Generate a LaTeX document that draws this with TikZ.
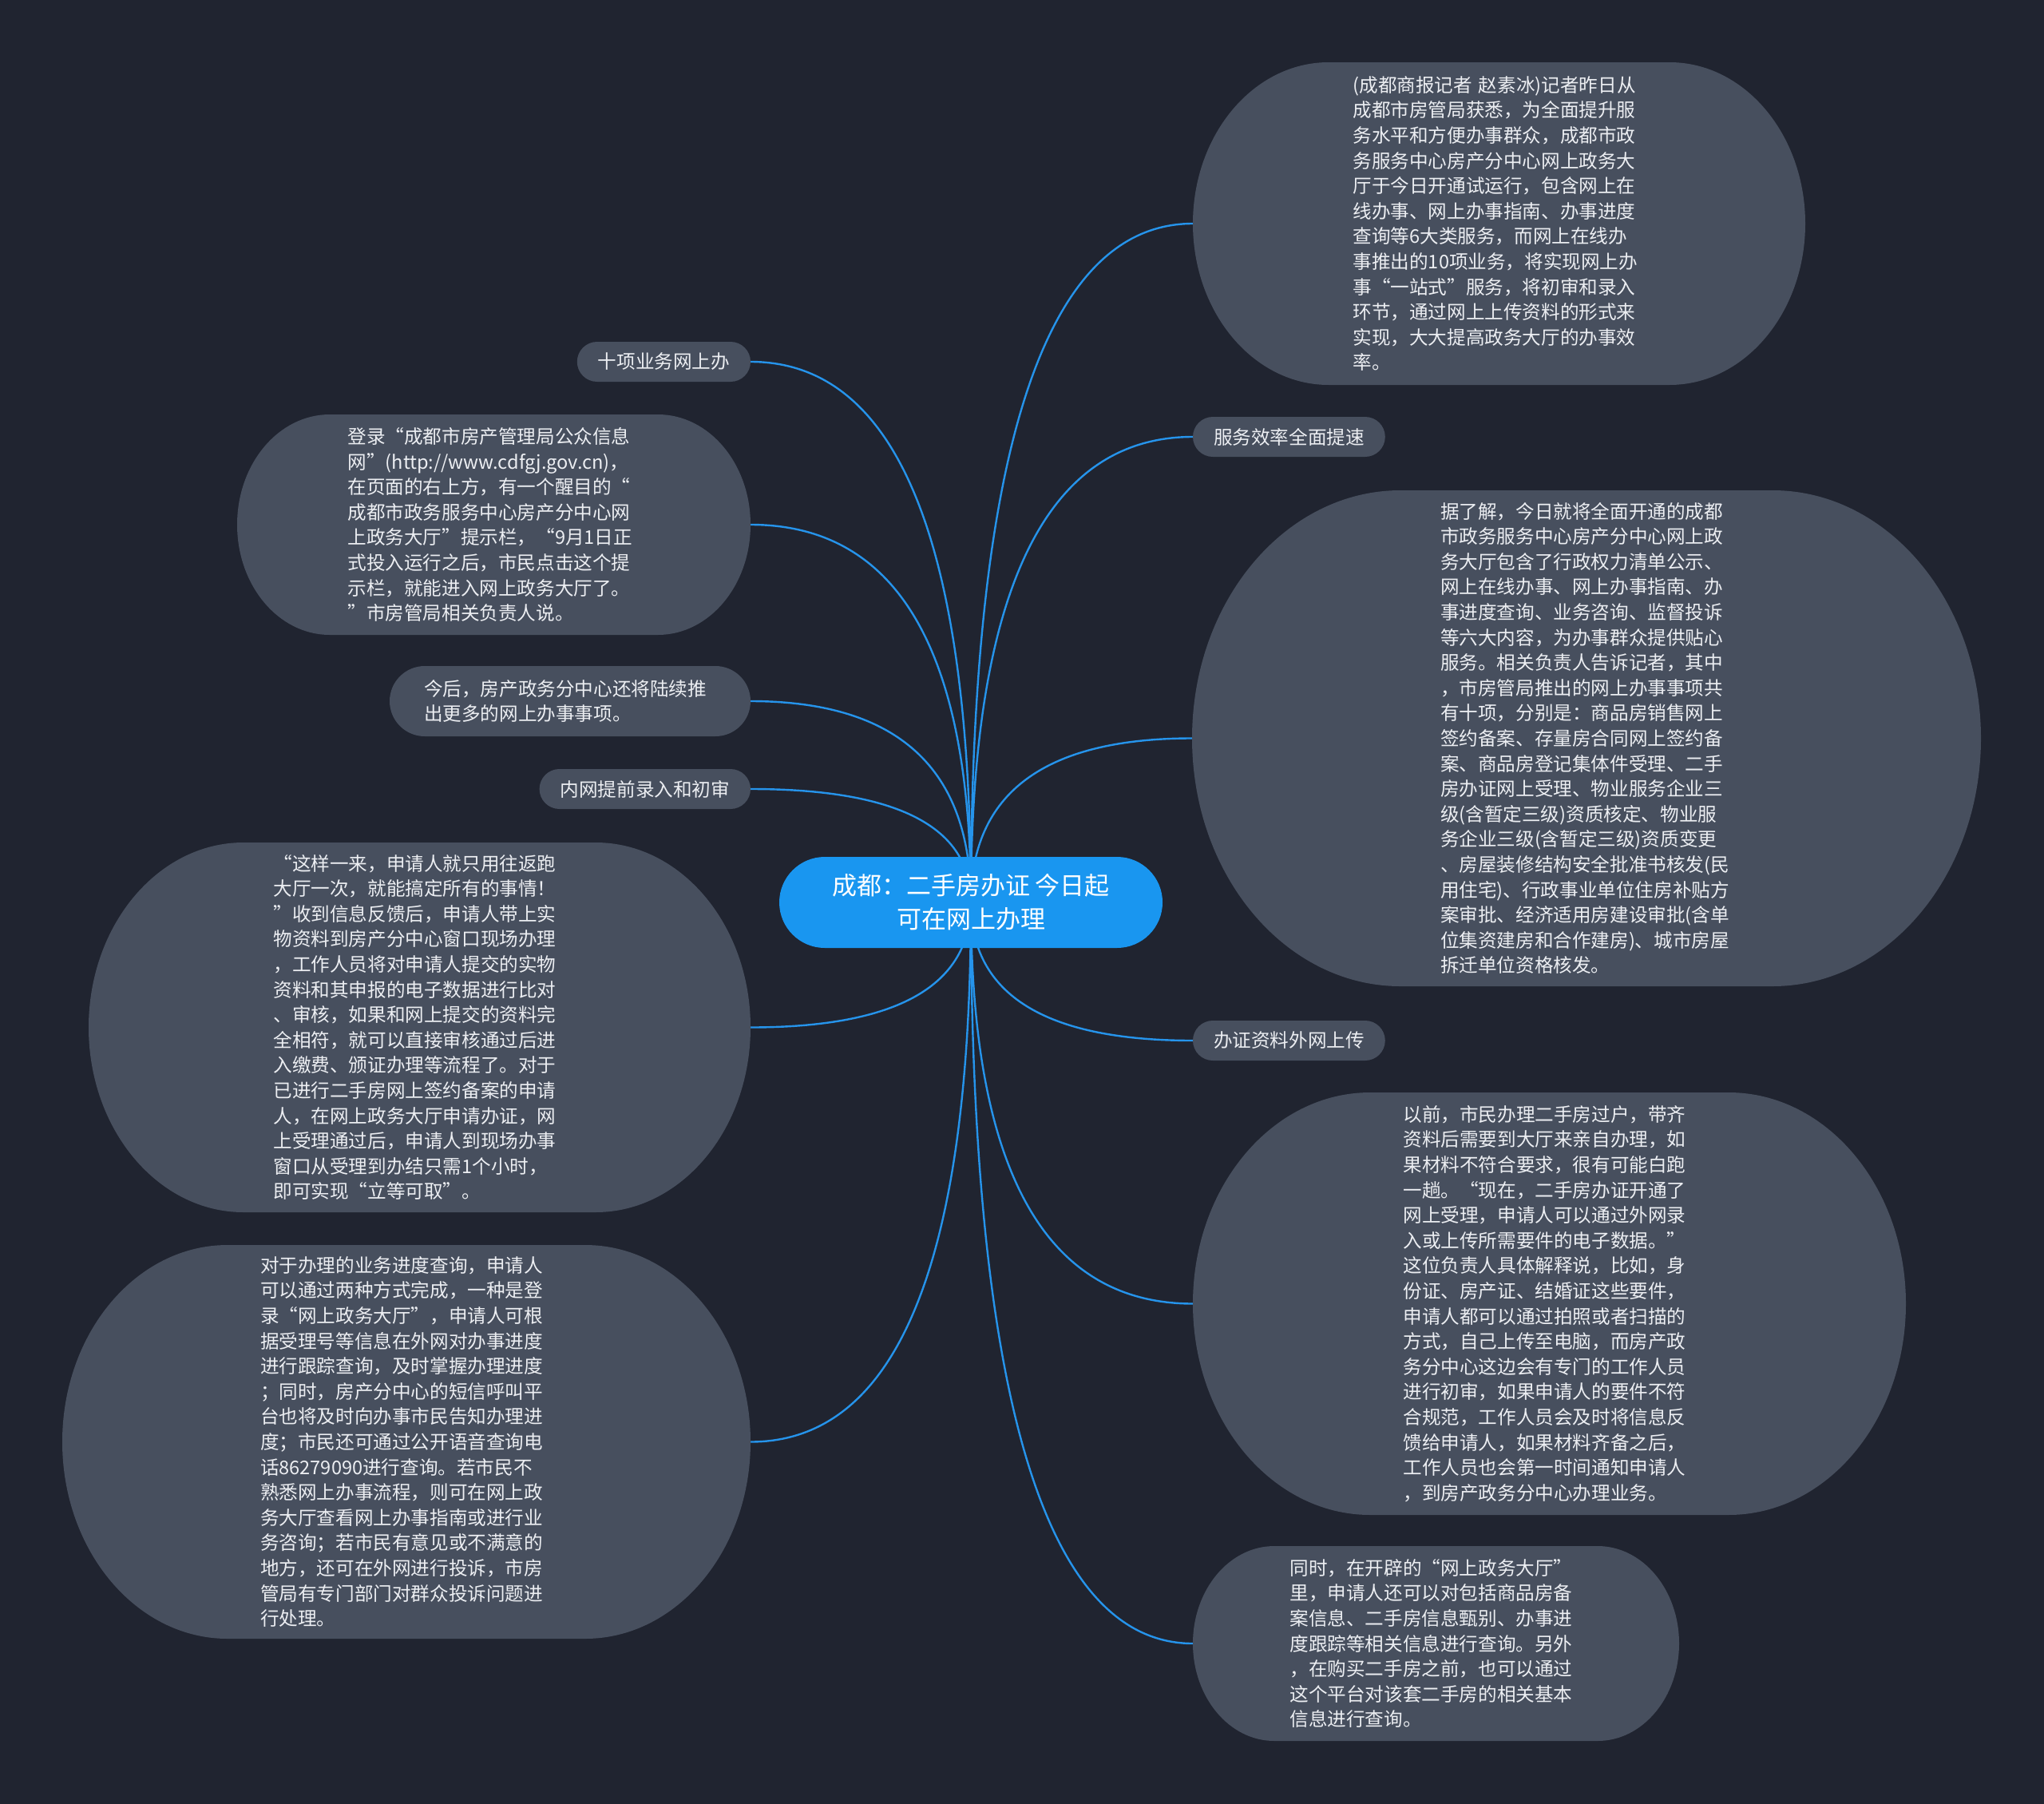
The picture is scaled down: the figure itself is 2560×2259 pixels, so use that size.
\documentclass[tikz,border=0pt]{standalone}
\usepackage{fontspec}
\setmainfont{Noto Sans CJK SC}
\usetikzlibrary{calc}
\definecolor{bgcol}{RGB}{32,36,48}
\definecolor{nodecol}{RGB}{71,79,94}
\definecolor{rootcol}{RGB}{25,150,240}
\definecolor{edgecol}{RGB}{38,148,235}
\definecolor{txtcol}{RGB}{236,238,242}
\pgfdeclarelayer{bglayer}
\pgfdeclarelayer{filllayer}
\pgfsetlayers{bglayer,filllayer,main}
\newcommand\blob[3]{%
  \fill[nodecol] ([xshift=#2]#1.north west) -- ([xshift=-#2]#1.north east)
    arc[start angle=90,end angle=-90,x radius=#2,y radius=#3]
    -- ([xshift=#2]#1.south west)
    arc[start angle=270,end angle=90,x radius=#2,y radius=#3] -- cycle;}
\newcommand\edgeto[2]{%
  \draw[edgeline] (c.center) .. controls ($(c.center)!0.6667!(c.center |- #1.#2)$)
    and ($(#1.#2)!0.6667!(c.center |- #1.#2)$) .. (#1.#2);}
\begin{document}
\begin{tikzpicture}[x=0.5pt,y=-0.5pt,
  bodyfont/.style={font=\fontsize{11.8pt}{15.8pt}\selectfont},
  bignode/.style={bodyfont, text=txtcol, text width=183pt, align=left, inner sep=0pt, outer sep=0pt},
  pill/.style={bodyfont, text=txtcol, fill=nodecol, rounded corners=12.5pt, minimum height=25pt, inner xsep=13pt, inner ysep=0pt, outer sep=0pt},
  rootnode/.style={font=\fontsize{15.5pt}{21pt}\selectfont, text=white, fill=rootcol, rounded corners=28.5pt, minimum width=240pt, minimum height=57pt, align=center, inner sep=0pt, outer sep=0pt},
  edgeline/.style={draw=edgecol, line width=1.2pt}
]
% root
\node[rootnode] (c) at (1216,1130) {成都：二手房办证 今日起\\可在网上办理};

% right side
\node[bignode, minimum width=383.5pt, minimum height=202pt] (n2) at (1877.5,280) {(成都商报记者 赵素冰)记者昨日从\\
成都市房管局获悉，为全面提升服\\
务水平和方便办事群众，成都市政\\
务服务中心房产分中心网上政务大\\
厅于今日开通试运行，包含网上在\\
线办事、网上办事指南、办事进度\\
查询等6大类服务，而网上在线办\\
事推出的10项业务，将实现网上办\\
事“一站式”服务，将初审和录入\\
环节，通过网上上传资料的形式来\\
实现，大大提高政务大厅的办事效\\
率。};

\node[pill, anchor=west] (n3) at (1494,547) {服务效率全面提速};

\node[bignode, minimum width=494pt, minimum height=310.5pt] (n4) at (1987,924.5) {据了解，今日就将全面开通的成都\\
市政务服务中心房产分中心网上政\\
务大厅包含了行政权力清单公示、\\
网上在线办事、网上办事指南、办\\
事进度查询、业务咨询、监督投诉\\
等六大内容，为办事群众提供贴心\\
服务。相关负责人告诉记者，其中\\
，市房管局推出的网上办事事项共\\
有十项，分别是：商品房销售网上\\
签约备案、存量房合同网上签约备\\
案、商品房登记集体件受理、二手\\
房办证网上受理、物业服务企业三\\
级(含暂定三级)资质核定、物业服\\
务企业三级(含暂定三级)资质变更\\
、房屋装修结构安全批准书核发(民\\
用住宅)、行政事业单位住房补贴方\\
案审批、经济适用房建设审批(含单\\
位集资建房和合作建房)、城市房屋\\
拆迁单位资格核发。};

\node[pill, anchor=west] (n5) at (1494,1303) {办证资料外网上传};

\node[bignode, minimum width=446.5pt, minimum height=264.5pt] (n6) at (1940.5,1632.5) {以前，市民办理二手房过户，带齐\\
资料后需要到大厅来亲自办理，如\\
果材料不符合要求，很有可能白跑\\
一趟。“现在，二手房办证开通了\\
网上受理，申请人可以通过外网录\\
入或上传所需要件的电子数据。”\\
这位负责人具体解释说，比如，身\\
份证、房产证、结婚证这些要件，\\
申请人都可以通过拍照或者扫描的\\
方式，自己上传至电脑，而房产政\\
务分中心这边会有专门的工作人员\\
进行初审，如果申请人的要件不符\\
合规范，工作人员会及时将信息反\\
馈给申请人，如果材料齐备之后，\\
工作人员也会第一时间通知申请人\\
，到房产政务分中心办理业务。};

\node[bignode, minimum width=304.5pt, minimum height=122pt] (n7) at (1798.5,2058) {同时，在开辟的“网上政务大厅”\\
里，申请人还可以对包括商品房备\\
案信息、二手房信息甄别、办事进\\
度跟踪等相关信息进行查询。另外\\
，在购买二手房之前，也可以通过\\
这个平台对该套二手房的相关基本\\
信息进行查询。};

% left side
\node[pill, anchor=east] (n8) at (940,453) {十项业务网上办};

\node[bignode, minimum width=321.5pt, minimum height=138pt] (n9) at (618.5,657) {登录“成都市房产管理局公众信息\\
网”(http://www.cdfgj.gov.cn)，\\
在页面的右上方，有一个醒目的“\\
成都市政务服务中心房产分中心网\\
上政务大厅”提示栏，“9月1日正\\
式投入运行之后，市民点击这个提\\
示栏，就能进入网上政务大厅了。\\
”市房管局相关负责人说。};

\node[bignode, minimum width=226pt, minimum height=44pt] (n10) at (714,878) {今后，房产政务分中心还将陆续推\\
出更多的网上办事事项。};

\node[pill, anchor=east] (n11) at (940,988) {内网提前录入和初审};

\node[bignode, minimum width=414.5pt, minimum height=231.5pt] (n12) at (525.5,1286.5) {“这样一来，申请人就只用往返跑\\
大厅一次，就能搞定所有的事情！\\
”收到信息反馈后，申请人带上实\\
物资料到房产分中心窗口现场办理\\
，工作人员将对申请人提交的实物\\
资料和其申报的电子数据进行比对\\
、审核，如果和网上提交的资料完\\
全相符，就可以直接审核通过后进\\
入缴费、颁证办理等流程了。对于\\
已进行二手房网上签约备案的申请\\
人，在网上政务大厅申请办证，网\\
上受理通过后，申请人到现场办事\\
窗口从受理到办结只需1个小时，\\
即可实现“立等可取”。};

\node[bignode, minimum width=431pt, minimum height=246.5pt] (n13) at (509,1805.5) {对于办理的业务进度查询，申请人\\
可以通过两种方式完成，一种是登\\
录“网上政务大厅”，申请人可根\\
据受理号等信息在外网对办事进度\\
进行跟踪查询，及时掌握办理进度\\
；同时，房产分中心的短信呼叫平\\
台也将及时向办事市民告知办理进\\
度；市民还可通过公开语音查询电\\
话86279090进行查询。若市民不\\
熟悉网上办事流程，则可在网上政\\
务大厅查看网上办事指南或进行业\\
务咨询；若市民有意见或不满意的\\
地方，还可在外网进行投诉，市房\\
管局有专门部门对群众投诉问题进\\
行处理。};

\begin{pgfonlayer}{bglayer}
  \fill[bgcol] (0,0) rectangle (2560,2259);
  \edgeto{n2}{west}
  \edgeto{n3}{west}
  \edgeto{n4}{west}
  \edgeto{n5}{west}
  \edgeto{n6}{west}
  \edgeto{n7}{west}
  \edgeto{n8}{east}
  \edgeto{n9}{east}
  \edgeto{n10}{east}
  \edgeto{n11}{east}
  \edgeto{n12}{east}
  \edgeto{n13}{east}
\end{pgfonlayer}
\begin{pgfonlayer}{filllayer}
  \blob{n2}{85pt}{101pt}
  \blob{n4}{130.5pt}{155.25pt}
  \blob{n6}{111pt}{132.25pt}
  \blob{n7}{51pt}{61pt}
  \blob{n9}{58pt}{69pt}
  \blob{n10}{22pt}{22pt}
  \blob{n12}{97pt}{115.75pt}
  \blob{n13}{103.5pt}{123.25pt}
\end{pgfonlayer}
\end{tikzpicture}
\end{document}
